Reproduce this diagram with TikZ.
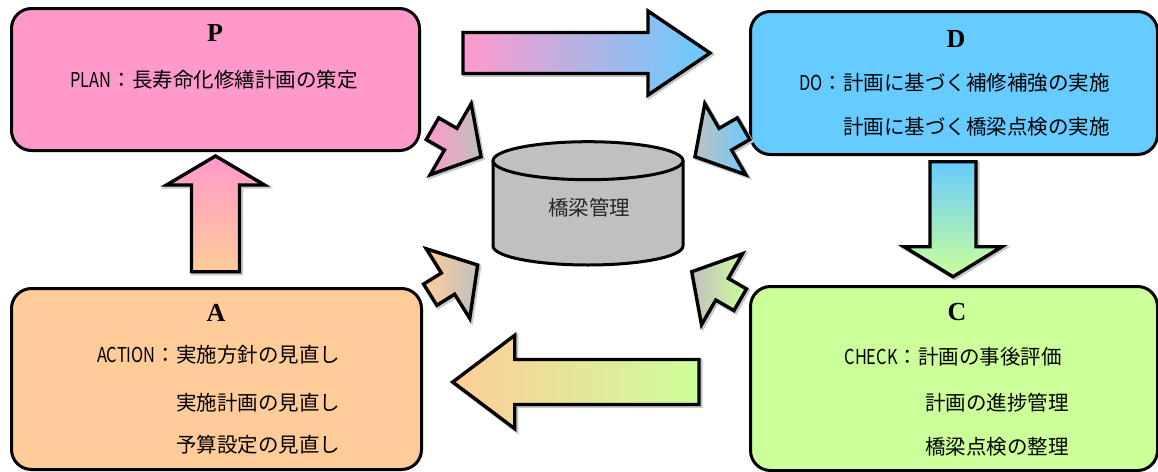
\documentclass[tikz,border=0pt]{standalone}
\usepackage{fontspec}
\usepackage{graphicx}
\newfontfamily\jp{Noto Sans CJK JP}
\newfontfamily\hdrfont{Liberation Serif}
\definecolor{planpink}{HTML}{FF99CC}
\definecolor{doblue}{HTML}{66CCFF}
\definecolor{checkgreen}{HTML}{CCFF99}
\definecolor{actorange}{HTML}{FFCC99}
\definecolor{cylgray}{HTML}{C0C0C0}

% block arrow: #1 style, (#2,#3) middle of the tail, #4 direction (deg),
% #5 total length, #6 half shaft width, #7 half head width, #8 head length
\newcommand\pdcaarrow[8]{%
  \path[arrowshadow, shift={(#2+1.6,#3+1.6)}, rotate=#4]
    (0,-#6) -- ({#5-#8},-#6) -- ({#5-#8},-#7) -- (#5,0) -- ({#5-#8},#7) -- ({#5-#8},#6) -- (0,#6) -- cycle;
  \path[blockarrow, #1, shift={(#2,#3)}, rotate=#4]
    (0,-#6) -- ({#5-#8},-#6) -- ({#5-#8},-#7) -- (#5,0) -- ({#5-#8},#7) -- ({#5-#8},#6) -- (0,#6) -- cycle;
}

\begin{document}
\begin{tikzpicture}[x=1pt, y=-1pt,
  box/.style={draw=black, line width=3pt, rounded corners=20pt, anchor=north west, inner sep=0pt},
  letter/.style={font=\hdrfont\bfseries\fontsize{26}{30}\selectfont, inner sep=0pt},
  txt/.style={font=\jp\fontsize{20.5}{30}\selectfont, inner sep=0pt, anchor=base west},
  blockarrow/.style={draw=black, line width=3.4pt, line join=miter},
  arrowshadow/.style={draw=black!22, fill=black!22, line width=4pt},
  cyl/.style={draw=black, line width=3pt, fill=cylgray}]

\useasboundingbox (0,0) rectangle (1158,471);

% the four PDCA boxes
\node[box, fill=planpink,   minimum width=408, minimum height=142] (P) at (10,7) {};
\node[box, fill=doblue,     minimum width=407, minimum height=143] (D) at (749,10) {};
\node[box, fill=actorange,  minimum width=410, minimum height=181] (A) at (10,287) {};
\node[box, fill=checkgreen, minimum width=407, minimum height=184] (C) at (749,285) {};

% headings
\node[letter] (Ph) at (215,33) {P};
\node[letter] (Dh) at (956,39) {D};
\node[letter] (Ch) at (957,312) {C};
\node[letter] (Ah) at (216,313) {A};

% box texts
\node[txt] (P1) at (132,87.5) {\llap{\scalebox{0.8}[1]{PLAN}：}長寿命化修繕計画の策定};
\node[txt] (D1) at (843,90.5) {\llap{\scalebox{0.8}[1]{DO}：}計画に基づく補修補強の実施};
\node[txt] (D2) at (843,134.5) {計画に基づく橋梁点検の実施};
\node[txt] (C1) at (918,364) {\llap{\scalebox{0.8}[1]{CHECK}：}計画の事後評価};
\node[txt] (C2) at (925,410.5) {計画の進捗管理};
\node[txt] (C3) at (925,454) {橋梁点検の整理};
\node[txt] (A1) at (176,362.5) {\llap{\scalebox{0.8}[1]{ACTION}：}実施方針の見直し};
\node[txt] (A2) at (176,410.5) {実施計画の見直し};
\node[txt] (A3) at (176,452.5) {予算設定の見直し};

% cycle arrows between the boxes
\pdcaarrow{left color=planpink, right color=doblue}{463}{53}{0}{247}{20.5}{42}{62}
\pdcaarrow{top color=doblue, bottom color=checkgreen}{953}{161.7}{-90}{115}{23}{49}{30}
\pdcaarrow{left color=actorange, right color=checkgreen}{699}{382}{180}{246.3}{22.5}{46.7}{62}
\pdcaarrow{top color=planpink, bottom color=actorange}{215.5}{271.7}{90}{115.7}{24}{49}{29}

% central database
\draw[cyl] (493,160.7) -- (493,246) arc[start angle=180, end angle=0, x radius=95, y radius=19] -- (683,160.7);
\draw[cyl] (588,160.7) ellipse[x radius=95, y radius=19];
\node[font=\jp\fontsize{20.5}{30}\selectfont, text=black!85, inner sep=0pt] (db) at (589,208) {橋梁管理};

% arrows pointing into the database
\pdcaarrow{left color=planpink, right color=cylgray}{432.5}{128.7}{-30}{56}{12.5}{41}{35}
\pdcaarrow{left color=cylgray, right color=doblue}{743.5}{128.7}{210}{56}{12.5}{41}{35}
\pdcaarrow{left color=actorange, right color=cylgray}{430.2}{294.7}{32}{56}{12.5}{41}{35}
\pdcaarrow{left color=cylgray, right color=checkgreen}{740.2}{299.7}{150}{56}{12.5}{41}{35}

\end{tikzpicture}
\end{document}
